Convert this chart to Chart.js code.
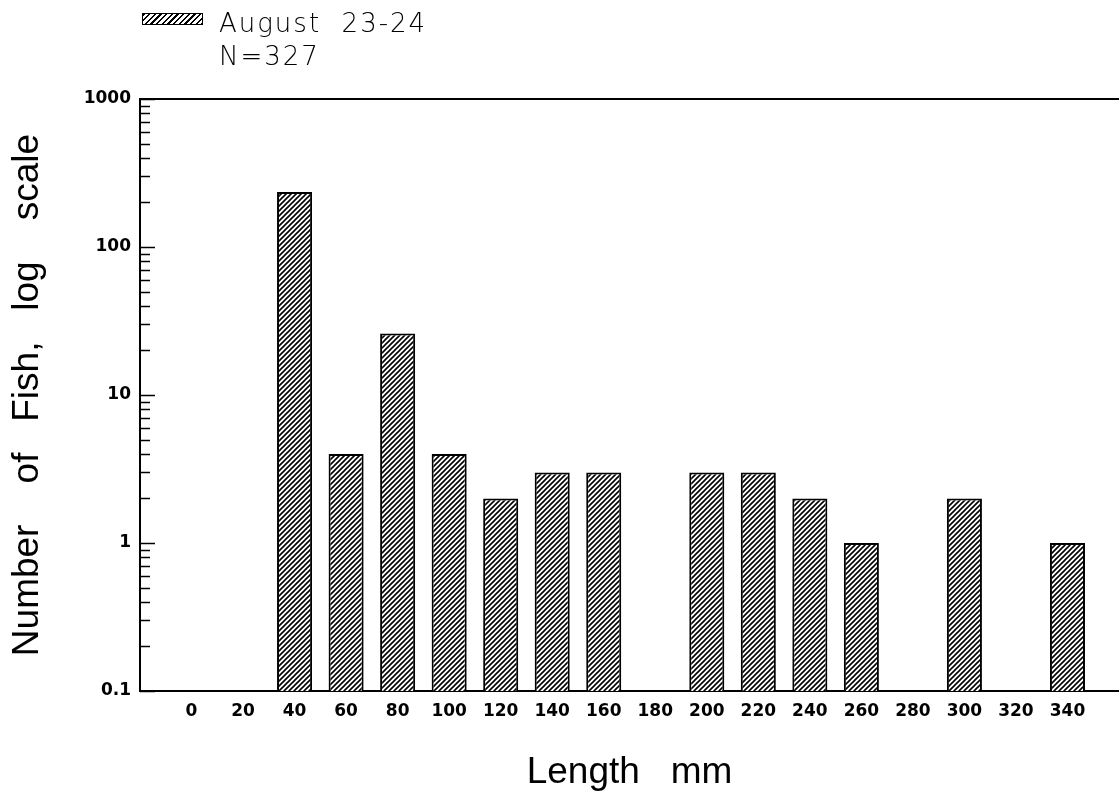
<!DOCTYPE html>
<html>
<head>
<meta charset="utf-8">
<script src="https://cdn.jsdelivr.net/npm/chart.js@4.4.1/dist/chart.umd.min.js"></script>
<style>
  body { margin: 0; background: #fff; }
  #wrap { position: relative; width: 1119px; height: 793px; }
  #legend { position: absolute; left: 142px; top: 7px; font-family: "DejaVu Sans", sans-serif; font-weight: 200; font-size: 26px; line-height: 33px; letter-spacing: 2px; color: #000; white-space: pre; }
  #legend .sw { position: absolute; left: 0; top: 6px; width: 59px; height: 10px; border: 1.5px solid #000;
    background: repeating-linear-gradient(135deg, #000 0 1.5px, #fff 1.5px 4px); }
  #legend .txt { position: absolute; left: 77px; top: 0; }
</style>
</head>
<body>
<div id="wrap">
  <canvas id="lengthChart" width="1119" height="793"></canvas>
  <div id="legend"><div class="sw"></div><div class="txt">August  23-24
N=327</div></div>
</div>
<script>
// length classes (mm) and fish counts
const lengths = [0, 20, 40, 60, 80, 100, 120, 140, 160, 180, 200, 220, 240, 260, 280, 300, 320, 340];
const counts  = [0, 0, 235, 4, 26, 4, 2, 3, 3, 0, 3, 3, 2, 1, 0, 2, 0, 1];
const yTicks  = [0.1, 1, 10, 100, 1000];

// diagonal hatch fill
const pc = document.createElement('canvas');
pc.width = pc.height = 5;
const p = pc.getContext('2d');
p.fillStyle = '#fff';
p.fillRect(0, 0, 5, 5);
p.strokeStyle = '#000';
p.lineWidth = 1.6;
p.beginPath();
p.moveTo(-1, 6); p.lineTo(6, -1);
p.moveTo(-1, 1); p.lineTo(1, -1);
p.moveTo(4, 6); p.lineTo(6, 4);
p.stroke();
const hatch = p.createPattern(pc, 'repeat');

// inward tick marks on the log axis
const logTicks = {
    id: 'logTicks',
    afterDraw(chart) {
        const y = chart.scales.y, ctx = chart.ctx, left = chart.chartArea.left;
        ctx.save();
        ctx.strokeStyle = '#000';
        ctx.lineWidth = 1.5;
        ctx.beginPath();
        for (let d = 0.1; d < 1000; d *= 10) {
            for (let m = 1; m <= 9; m++) {
                const py = Math.round(y.getPixelForValue(d * m)) + 0.5;
                ctx.moveTo(left, py);
                ctx.lineTo(left + (m === 1 ? 15 : 10), py);
            }
        }
        const top = Math.round(y.getPixelForValue(1000)) + 0.5;
        ctx.moveTo(left, top);
        ctx.lineTo(left + 15, top);
        ctx.stroke();
        ctx.restore();
    }
};

const ctx = document.getElementById('lengthChart').getContext('2d');
const lengthChart = new Chart(ctx, {
    type: 'bar',
    data: {
        datasets: [{
            label: 'August 23-24',
            data: lengths.map((x, i) => ({ x: x, y: counts[i] > 0 ? counts[i] : null })),
            backgroundColor: hatch,
            borderColor: '#000',
            borderWidth: 2,
            categoryPercentage: 1,
            barPercentage: 0.68
        }]
    },
    options: {
        responsive: false,
        animation: false,
        layout: { padding: { top: 99, left: 0, right: 0, bottom: 0 } },
        plugins: {
            legend: { display: false },
            tooltip: { enabled: false }
        },
        scales: {
            x: {
                type: 'linear',
                offset: false,
                min: -20,
                max: 360,
                afterBuildTicks: s => { s.ticks = lengths.map(v => ({ value: v })); },
                afterFit: s => { s.height = 102; },
                grid: { display: false, drawTicks: false, offset: false },
                border: { display: true, color: '#000', width: 2 },
                ticks: {
                    autoSkip: false,
                    maxRotation: 0,
                    padding: 10,
                    color: '#000',
                    font: { family: 'DejaVu Sans', weight: 'bold', size: 17 },
                    callback: v => String(v)
                },
                title: {
                    display: true,
                    text: 'Length   mm',
                    color: '#000',
                    padding: { top: 0, bottom: -2 },
                    font: { family: 'Liberation Sans', size: 37 }
                }
            },
            y: {
                type: 'logarithmic',
                min: 0.1,
                max: 1000,
                afterBuildTicks: s => { s.ticks = yTicks.map(v => ({ value: v })); },
                afterFit: s => { s.width = 140; },
                grid: {
                    drawTicks: false,
                    lineWidth: 2,
                    color: c => (c.tick && c.tick.value === 1000 ? '#000' : 'rgba(0,0,0,0)')
                },
                border: { display: true, color: '#000', width: 2 },
                ticks: {
                    padding: 9,
                    color: '#000',
                    font: { family: 'DejaVu Sans', weight: 'bold', size: 17 },
                    callback: v => String(v)
                },
                title: {
                    display: true,
                    text: 'Number    of   Fish,   log    scale',
                    color: '#000',
                    padding: { top: 6, bottom: 0 },
                    font: { family: 'Liberation Sans', size: 37 }
                }
            }
        }
    },
    plugins: [logTicks]
});
</script>
</body>
</html>
